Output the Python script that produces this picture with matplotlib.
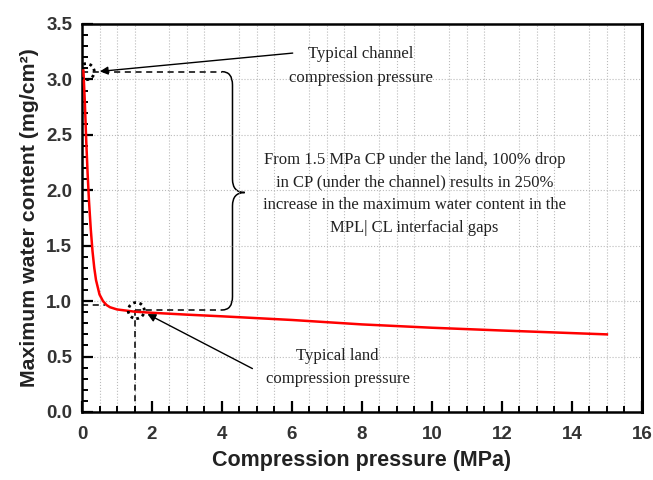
import matplotlib.pyplot as plt
from matplotlib.path import Path
from matplotlib.patches import PathPatch, Ellipse
from matplotlib.ticker import MultipleLocator

# =====================
# data
# =====================
pressure = [0.04, 0.08, 0.12, 0.16, 0.2, 0.25, 0.3, 0.35, 0.4, 0.5, 0.6, 0.7, 0.8,
            1.0, 1.5, 2.0, 3.0, 4.0, 6.0, 8.0, 10.0, 12.0, 15.0]
water = [3.08, 2.80, 2.45, 2.15, 1.90, 1.65, 1.45, 1.30, 1.19, 1.06, 1.00, 0.965, 0.945,
         0.925, 0.905, 0.895, 0.878, 0.863, 0.83, 0.79, 0.76, 0.735, 0.70]

channel_cp, channel_wc = 0.12, 3.07
land_cp, land_wc = 1.5, 0.92

label_channel = "Typical channel\ncompression pressure"
label_land = "Typical land\ncompression pressure"
label_main = ("From 1.5 MPa CP under the land, 100% drop\n"
              "in CP (under the channel) results in 250%\n"
              "increase in the maximum water content in the\n"
              "MPL| CL interfacial gaps")

serif = ["Liberation Serif", "DejaVu Serif"]
sans = ["Liberation Sans", "DejaVu Sans"]

fig = plt.figure(figsize=(6.53, 4.8), dpi=100)
ax = fig.add_axes([0.1256, 0.1417, 0.8574, 0.8083])

ax.plot(pressure, water, color="red", lw=1.8, zorder=3)

# dashed guide lines
dash = dict(color="k", lw=1.1, ls=(0, (4, 3)))
ax.plot([0, 4.0], [channel_wc, channel_wc], **dash)
ax.plot([0, 0.65], [0.965, 0.965], **dash)
ax.plot([land_cp, 4.0], [land_wc, land_wc], **dash)
ax.plot([land_cp, land_cp], [0, land_wc], **dash)

# dotted circles (ellipse in data units -> round on screen)
ax.add_patch(Ellipse((channel_cp, channel_wc), 0.46, 0.145, fill=False,
                     ls=(0, (1, 1.3)), lw=2, color="k", zorder=4))
ax.add_patch(Ellipse((land_cp + 0.05, land_wc - 0.005), 0.46, 0.145, fill=False,
                     ls=(0, (1, 1.3)), lw=2, color="k", zorder=4))

# curly bracket
bx, tip = 4.3, 4.65
top, bot, mid = channel_wc, land_wc, 1.98
verts = [(4.0, top), (bx, top), (bx, top - 0.12),
         (bx, mid + 0.12), (bx, mid), (tip, mid),
         (bx, mid), (bx, mid - 0.12),
         (bx, bot + 0.12), (bx, bot), (4.0, bot)]
codes = [Path.MOVETO, Path.CURVE3, Path.CURVE3,
         Path.LINETO, Path.CURVE3, Path.CURVE3,
         Path.CURVE3, Path.CURVE3,
         Path.LINETO, Path.CURVE3, Path.CURVE3]
ax.add_patch(PathPatch(Path(verts, codes), fill=False, lw=1.1, color="k"))

# annotations
ax.annotate("", xy=(0.43, channel_wc), xytext=(6.1, 3.24),
            arrowprops=dict(arrowstyle="-|>", color="k", lw=1, mutation_scale=12))
ax.annotate("", xy=(1.8, 0.895), xytext=(4.94, 0.38),
            arrowprops=dict(arrowstyle="-|>", color="k", lw=1, mutation_scale=12))
ax.text(7.97, 3.12, label_channel, ha="center", va="center", fontsize=12,
        family=serif, color="#222222", linespacing=1.65)
ax.text(7.3, 0.40, label_land, ha="center", va="center", fontsize=12,
        family=serif, color="#222222", linespacing=1.6)
ax.text(9.5, 1.97, label_main, ha="center", va="center", fontsize=12,
        family=serif, color="#222222", linespacing=1.55)

# axes styling
ax.set_xlim(0, 16)
ax.set_ylim(0, 3.5)
ax.xaxis.set_major_locator(MultipleLocator(2))
ax.xaxis.set_minor_locator(MultipleLocator(0.5))
ax.yaxis.set_major_locator(MultipleLocator(0.5))
ax.yaxis.set_minor_locator(MultipleLocator(0.1))
ax.xaxis.set_major_formatter(plt.FuncFormatter(lambda v, p: f"{v:.0f}"))
ax.yaxis.set_major_formatter(plt.FuncFormatter(lambda v, p: f"{v:.1f}"))
ax.tick_params(which="major", direction="in", length=8, width=1.6,
               labelsize=13.5, labelcolor="#333333")
ax.tick_params(axis="x", which="major", pad=10)
ax.tick_params(axis="y", which="major", pad=7)
ax.tick_params(which="minor", direction="in", length=4, width=1.4)
for lab in ax.get_xticklabels() + ax.get_yticklabels():
    lab.set_fontweight("bold")
    lab.set_family(sans)
for s in ax.spines.values():
    s.set_linewidth(1.8)
ax.spines["right"].set_linewidth(2.2)

ax.grid(which="minor", axis="x", color="#bbbbbb", ls=":", lw=0.8)
ax.grid(which="major", axis="y", color="#bbbbbb", ls=":", lw=0.8)

ax.set_xlabel("Compression pressure (MPa)", fontsize=15.5, fontweight="bold",
              family=sans, color="#222222", labelpad=5)
ax.set_ylabel("Maximum water content (mg/cm²)", fontsize=15.3,
              fontweight="bold", family=sans, color="#222222", labelpad=5)

fig.savefig("out.png", dpi=100)
